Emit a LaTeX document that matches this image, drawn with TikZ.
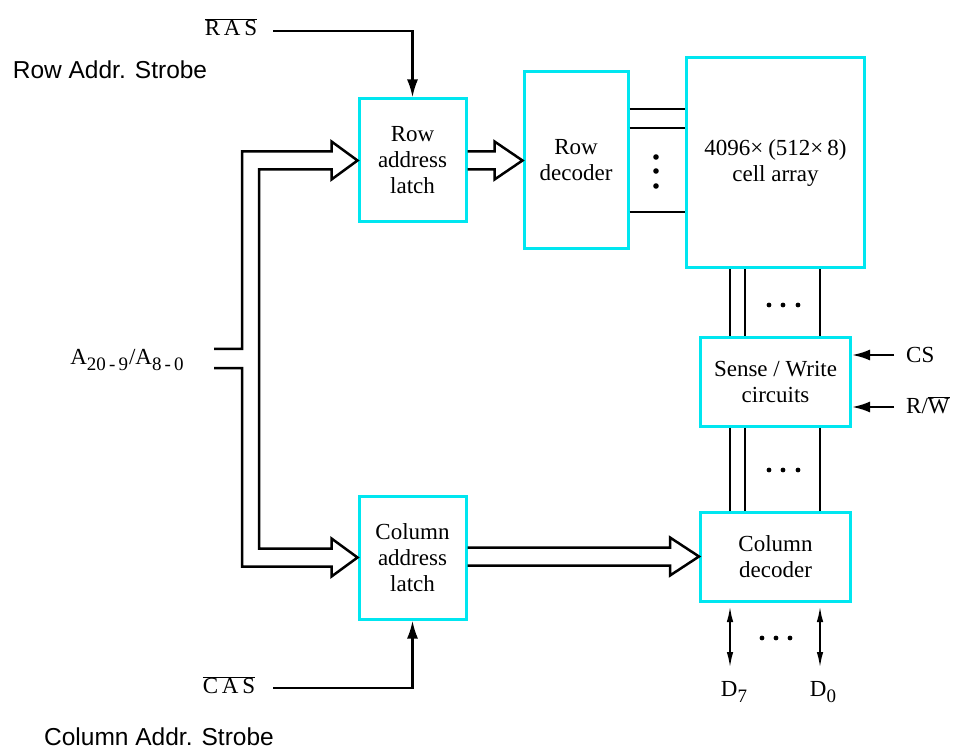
\documentclass[tikz,border=0pt]{standalone}
\usepackage{fontspec}
\setmainfont{Liberation Serif}
\newfontfamily\sansf{Liberation Sans}
\usetikzlibrary{arrows.meta,calc}
\definecolor{boxcyan}{RGB}{0,230,240}
\newcommand{\lowsub}[1]{\raisebox{-6pt}{\fontsize{19}{20}\selectfont #1}}
\begin{document}
\begin{tikzpicture}[x=1pt,y=-1pt,
  blk/.style={draw=boxcyan,line width=3pt,fill=white,align=center,font=\fontsize{23}{26}\selectfont,inner sep=0pt},
  wire/.style={line width=2.5pt},
  sig/.style={line width=2.5pt,-{Latex[length=18pt,width=11pt]}},
  dbl/.style={line width=2pt,{Latex[length=16pt,width=6.5pt]}-{Latex[length=16pt,width=6.5pt]}},
  bus/.style={line width=2.5pt,line join=miter},
  lbl/.style={font=\fontsize{23}{26}\selectfont,inner sep=0pt},
  slbl/.style={font=\sansf\fontsize{24.5}{28}\selectfont,inner sep=0pt},
  dotc/.style={fill=black}]
\useasboundingbox (0,0) rectangle (956,751);

% blocks
\node[blk,minimum width=107pt,minimum height=123pt] (rl) at (412.5,160.5) {Row\\address\\latch};
\node[blk,minimum width=104pt,minimum height=177pt] (rd) at (576,160.5) {Row\\decoder};
\node[blk,minimum width=178pt,minimum height=210pt] (ca) at (775.5,163) {4096×\hspace{5pt}(512×\hspace{4pt}8)\\cell array};
\node[blk,minimum width=150pt,minimum height=88pt] (sw) at (775.5,382) {Sense / Write\\circuits};
\node[blk,minimum width=150pt,minimum height=89pt] (cd) at (775.5,556.5) {Column\\decoder};
\node[blk,minimum width=107pt,minimum height=123pt] (cl) at (412.5,557.5) {Column\\address\\latch};

% labels
\node[lbl] (ras) at (231,27) {$\overline{\mbox{R\,A\,S}}$};
\node[slbl] (rs) at (110,70) {Row Addr. Strobe};
\node[lbl] (cas) at (229,685) {$\overline{\mbox{C\,A\,S}}$};
\node[slbl] (cst) at (159,737) {Column Addr. Strobe};
\node[lbl] (addr) at (127,360) {A\lowsub{20\,-\,9}\hspace{1pt}/A\lowsub{8\,-\,0}};
\node[lbl,anchor=west] (csl) at (906,355) {CS};
\node[lbl,anchor=west] (rwl) at (906,405) {R/$\overline{\mbox{W}}$};
\node[lbl] (d7) at (734,692) {D\lowsub{7}};
\node[lbl] (d0) at (823,692) {D\lowsub{0}};

% control signals
\coordinate (rasS) at (273,31);
\coordinate (casS) at (273,688);
\draw[sig] (rasS) -| (rl.north);
\draw[sig] (casS) -| (cl.south);
\coordinate (csS) at (894,355);
\coordinate (rwS) at (894,407);
\draw[sig] (csS) -- (csS -| sw.east);
\draw[sig] (rwS) -- (rwS -| sw.east);

% decoder to array word lines
\foreach \d [count=\i] in {-51.5,-32.5,51.5} {
  \coordinate (h\i) at ($(rd.east)+(0,\d)$);
  \draw[wire] (h\i) -- (h\i -| ca.west);
}
\foreach \yy in {157,171,186} \fill[dotc] (656,\yy) circle (2.8);

% bit lines
\foreach \dx in {-45.5,-30.5,44.5} {
  \draw[wire] ($(ca.south)+(\dx,0)$) -- ($(sw.north)+(\dx,0)$);
  \draw[wire] ($(sw.south)+(\dx,0)$) -- ($(cd.north)+(\dx,0)$);
}
\foreach \xx in {769,783,798} {
  \fill[dotc] (\xx,305) circle (2.4);
  \fill[dotc] (\xx,470) circle (2.4);
}
\foreach \xx in {762,776,790} \fill[dotc] (\xx,638) circle (2.4);

% data lines
\coordinate (d7t) at (730,606);
\coordinate (d7b) at (730,668);
\coordinate (d0t) at (820,606);
\coordinate (d0b) at (820,668);
\draw[dbl] (d7t) -- (d7b);
\draw[dbl] (d0t) -- (d0b);

% buses
\draw[bus] let \p1=(rl.east), \p2=(rd.west) in
  (\x1,\y2+9pt) -- (\x2-28pt,\y2+9pt) -- (\x2-28pt,\y2+19pt) -- (\p2)
  -- (\x2-28pt,\y2-19pt) -- (\x2-28pt,\y2-9pt) -- (\x1,\y2-9pt);
\draw[bus] let \p1=(cl.east), \p2=(cd.west) in
  (\x1,\y2+9pt) -- (\x2-29pt,\y2+9pt) -- (\x2-29pt,\y2+19pt) -- (\p2)
  -- (\x2-29pt,\y2-19pt) -- (\x2-29pt,\y2-9pt) -- (\x1,\y2-9pt);
\coordinate (abus) at (214,358.5);
\draw[bus] let \p1=(rl.west), \p2=(cl.west), \p3=(abus) in
  (\x3,\y3+9.5pt) -- (\x3+28pt,\y3+9.5pt) -- (\x3+28pt,\y1+9pt)
  -- (\x1-26pt,\y1+9pt) -- (\x1-26pt,\y1+19pt) -- (\p1)
  -- (\x1-26pt,\y1-19pt) -- (\x1-26pt,\y1-9pt) -- (\x3+45pt,\y1-9pt)
  -- (\x3+45pt,\y2+9pt) -- (\x2-26pt,\y2+9pt) -- (\x2-26pt,\y2+19pt) -- (\p2)
  -- (\x2-26pt,\y2-19pt) -- (\x2-26pt,\y2-9pt) -- (\x3+28pt,\y2-9pt)
  -- (\x3+28pt,\y3-9.5pt) -- (\x3,\y3-9.5pt);
\end{tikzpicture}
\end{document}
